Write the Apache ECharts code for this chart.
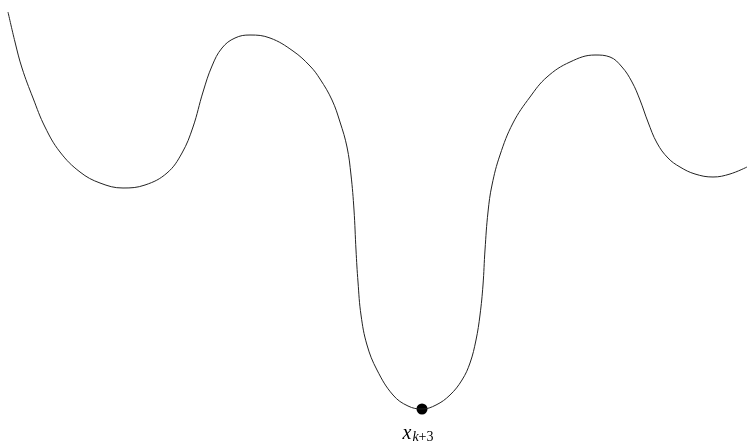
<!DOCTYPE html>
<html>
<head>
<meta charset="utf-8">
<script src="https://cdn.jsdelivr.net/npm/echarts@6/dist/echarts.min.js"></script>
<style>
  html, body { margin: 0; padding: 0; background: #fff; }
  #chart { width: 748px; height: 448px; }
</style>
</head>
<body>
<div id="chart"></div>
<script>
// curve samples (x, y), y grows downward
const curveX = [8, 15, 22, 33, 45, 60, 80, 100, 123, 145, 167, 182, 193, 203, 212, 222, 235, 250, 270, 293, 310, 320, 332, 340, 347, 351, 354, 356, 358, 361, 367, 377, 393, 408, 422, 436, 450, 462, 470, 476, 480, 483, 485, 488, 492, 500, 513, 530, 547, 570, 595, 610, 622, 632, 640, 648, 657, 668, 680, 695, 713, 730, 747];
const curveY = [12, 42, 68, 98, 127, 152, 172, 183, 188, 185, 173, 153, 127, 92, 66, 48, 38, 35, 38, 51, 66, 79, 100, 122, 147, 175, 210, 250, 282, 315, 345, 370, 395, 406, 409, 405, 395, 380, 363, 340, 315, 285, 250, 212, 185, 155, 123, 97, 77, 62, 55, 57, 67, 82, 100, 122, 143, 158, 167, 174, 177, 174, 167];
// the marked minimum
const pointX = [422];
const pointY = [409];

const chart = echarts.init(document.getElementById('chart'));

const curveData = curveX.map((x, i) => [x, curveY[i]]);
const pointData = pointX.map((x, i) => [x, pointY[i]]);

const serif = '"Liberation Serif", "DejaVu Serif", serif';

chart.setOption({
  animation: false,
  grid: { left: 0, right: 0, top: 0, bottom: 0 },
  xAxis: { type: 'value', min: 0, max: 748, show: false },
  yAxis: { type: 'value', min: 0, max: 448, inverse: true, show: false },
  series: [
    {
      type: 'line',
      data: curveData,
      smooth: 0.4,
      showSymbol: false,
      lineStyle: { color: '#222', width: 1 }
    },
    {
      type: 'scatter',
      data: pointData,
      symbolSize: 11,
      itemStyle: { color: '#000', opacity: 1 },
      label: {
        show: true,
        position: 'bottom',
        distance: 8,
        offset: [-4, 0],
        fontFamily: serif,
        fontStyle: 'italic',
        formatter: '{x|x}{k|k}{n|+3}',
        rich: {
          x: { fontFamily: serif, fontStyle: 'italic', fontSize: 20, color: '#000' },
          k: { fontFamily: serif, fontStyle: 'italic', fontSize: 14, color: '#000', padding: [8, 0, 0, 1] },
          n: { fontFamily: serif, fontStyle: 'normal', fontSize: 14, color: '#000', padding: [8, 0, 0, 0] }
        }
      }
    }
  ]
});
</script>
</body>
</html>
